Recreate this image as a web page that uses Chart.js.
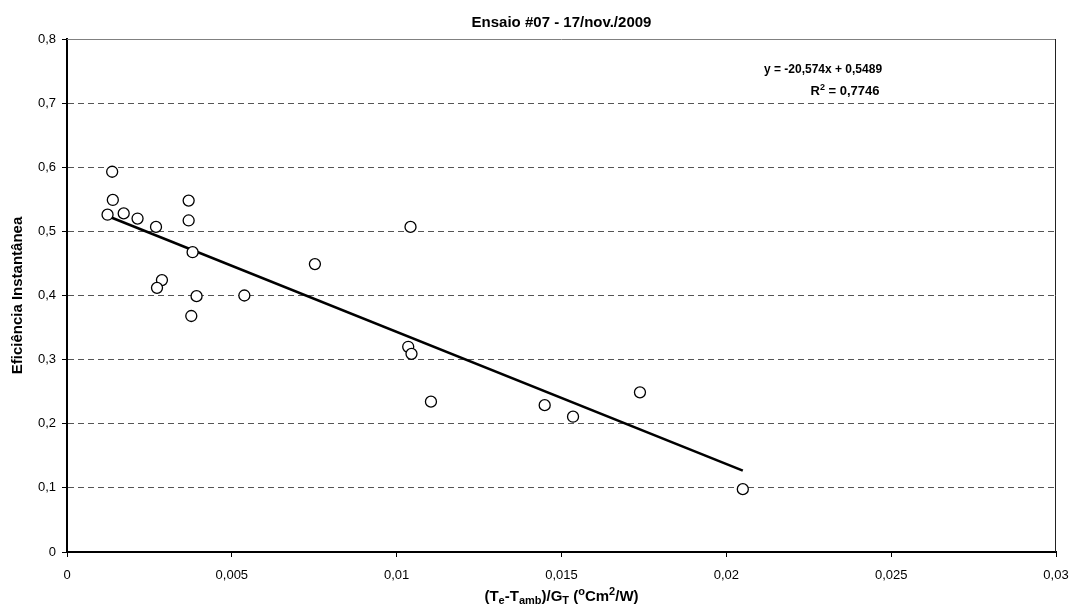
<!DOCTYPE html>
<html>
<head>
<meta charset="utf-8">
<script src="https://cdn.jsdelivr.net/npm/chart.js@4.4.0/dist/chart.umd.min.js"></script>
<style>
  html, body { margin: 0; padding: 0; background: #fff; }
  #wrap { width: 1072px; height: 611px; }
</style>
</head>
<body>
<div id="wrap"><canvas id="chart" width="1072" height="611"></canvas></div>
<script>
// measured points (x = (Te-Tamb)/GT, y = efficiency)
const xValues = [0.00137, 0.00139, 0.00123, 0.00172, 0.00214, 0.0027, 0.00369, 0.00369, 0.00381,
  0.00288, 0.00273, 0.00393, 0.00377, 0.00538, 0.00752, 0.01042, 0.01035, 0.01045, 0.01104,
  0.01449, 0.01535, 0.01738, 0.0205];
const yValues = [0.593, 0.549, 0.526, 0.528, 0.520, 0.507, 0.548, 0.517, 0.4675,
  0.424, 0.412, 0.399, 0.368, 0.400, 0.449, 0.507, 0.320, 0.309, 0.2345,
  0.229, 0.211, 0.249, 0.098];

// trend line end points as drawn
const trendX = [0.00123, 0.0205];
const trendY = [0.524, 0.127];

const xTickValues = [0, 0.005, 0.01, 0.015, 0.02, 0.025, 0.03];
const xTickLabels = ['0', '0,005', '0,01', '0,015', '0,02', '0,025', '0,03'];
const yTickValues = [0, 0.1, 0.2, 0.3, 0.4, 0.5, 0.6, 0.7, 0.8];
const yTickLabels = ['0', '0,1', '0,2', '0,3', '0,4', '0,5', '0,6', '0,7', '0,8'];

const titleText = 'Ensaio #07 - 17/nov./2009';
const yTitle = 'Eficiência Instantânea';
const eqText = 'y = -20,574x + 0,5489';
const r2Value = ' = 0,7746';

const FONT = "'Liberation Sans', Arial, sans-serif";

// draws a list of [text, mode] pieces, mode: 0 normal, 1 sub, 2 super
function drawRich(ctx, parts, cx, baseY, size, ratio) {
  const small = Math.round(size * ratio);
  let total = 0;
  parts.forEach(([t, m]) => {
    ctx.font = 'bold ' + (m ? small : size) + 'px ' + FONT;
    total += ctx.measureText(t).width;
  });
  let x = cx - total / 2;
  ctx.textAlign = 'left';
  ctx.textBaseline = 'alphabetic';
  parts.forEach(([t, m]) => {
    ctx.font = 'bold ' + (m ? small : size) + 'px ' + FONT;
    const dy = m === 1 ? size * 0.22 : m === 2 ? -size * 0.38 : 0;
    ctx.fillText(t, x, baseY + dy);
    x += ctx.measureText(t).width;
  });
}

const textPlugin = {
  id: 'texts',
  beforeDatasetsDraw(chart) {
    const { ctx, chartArea: a } = chart;
    ctx.save();
    ctx.lineWidth = 1;
    ctx.strokeStyle = '#808080';
    ctx.beginPath();
    ctx.moveTo(a.left, a.top + 0.5);
    ctx.lineTo(a.right, a.top + 0.5);
    ctx.stroke();
    ctx.strokeStyle = '#222';
    ctx.beginPath();
    ctx.moveTo(a.right - 0.5, a.top);
    ctx.lineTo(a.right - 0.5, a.bottom);
    ctx.stroke();
    ctx.restore();
  },
  afterDraw(chart) {
    const { ctx, chartArea: a } = chart;
    const cx = (a.left + a.right) / 2;
    ctx.save();
    ctx.fillStyle = '#000';
    ctx.textAlign = 'center';
    ctx.textBaseline = 'alphabetic';
    ctx.font = 'bold 15px ' + FONT;
    ctx.fillText(titleText, cx, 27);

    ctx.font = 'bold 12px ' + FONT;
    ctx.fillText(eqText, 823, 73);
    drawRich(ctx, [['R', 0], ['2', 2], [r2Value, 0]], 845, 95, 13, 0.7);

    drawRich(ctx, [['(T', 0], ['e', 1], ['-T', 0], ['amb', 1], [')/G', 0], ['T', 1],
      [' (', 0], ['o', 2], ['Cm', 0], ['2', 2], ['/W)', 0]], cx, 601, 15, 0.7);

    ctx.translate(18, (a.top + a.bottom) / 2);
    ctx.rotate(-Math.PI / 2);
    ctx.textAlign = 'center';
    ctx.textBaseline = 'middle';
    ctx.font = 'bold 15px ' + FONT;
    ctx.fillText(yTitle, 0, 0);
    ctx.restore();
  }
};

new Chart(document.getElementById('chart'), {
  type: 'scatter',
  data: {
    datasets: [
      {
        label: 'Eficiência',
        data: xValues.map((x, i) => ({ x, y: yValues[i] })),
        pointRadius: 5.5,
        pointHoverRadius: 5.5,
        pointBorderWidth: 1.3,
        pointBorderColor: '#000',
        pointBackgroundColor: '#fff',
        showLine: false,
        order: 1
      },
      {
        type: 'line',
        label: 'Tendência',
        data: trendX.map((x, i) => ({ x, y: trendY[i] })),
        borderColor: '#000',
        borderWidth: 2.5,
        pointRadius: 0,
        fill: false,
        order: 2
      }
    ]
  },
  options: {
    responsive: false,
    animation: false,
    devicePixelRatio: 1,
    layout: { padding: { top: 39, right: 0, left: 0, bottom: 0 } },
    plugins: { legend: { display: false }, tooltip: { enabled: false }, title: { display: false } },
    scales: {
      x: {
        type: 'linear',
        min: 0, max: 0.03,
        afterBuildTicks: s => { s.ticks = xTickValues.map(v => ({ value: v })); },
        afterFit: s => { s.height = 59; s.paddingLeft = 0; s.paddingRight = 16; },
        ticks: {
          color: '#000',
          font: { family: FONT, size: 13 },
          padding: 11,
          maxRotation: 0,
          autoSkip: false,
          callback: (v, i) => xTickLabels[i]
        },
        grid: { drawOnChartArea: false, drawTicks: true, tickLength: 5, tickColor: '#000' },
        border: { display: true, color: '#000', width: 2 }
      },
      y: {
        type: 'linear',
        min: 0, max: 0.8,
        afterBuildTicks: s => { s.ticks = yTickValues.map(v => ({ value: v })); },
        afterFit: s => { s.width = 67; },
        ticks: {
          color: '#000',
          font: { family: FONT, size: 13 },
          padding: 6,
          autoSkip: false,
          callback: (v, i) => yTickLabels[i]
        },
        grid: {
          drawTicks: true,
          tickLength: 5,
          tickColor: '#000',
          tickBorderDash: [1, 0],
          color: c => (c.tick && (c.tick.value === 0 || c.tick.value === 0.8)) ? 'rgba(0,0,0,0)' : '#555'
        },
        border: { display: true, color: '#000', width: 2, dash: [6, 4] }
      }
    }
  },
  plugins: [textPlugin]
});
</script>
</body>
</html>
